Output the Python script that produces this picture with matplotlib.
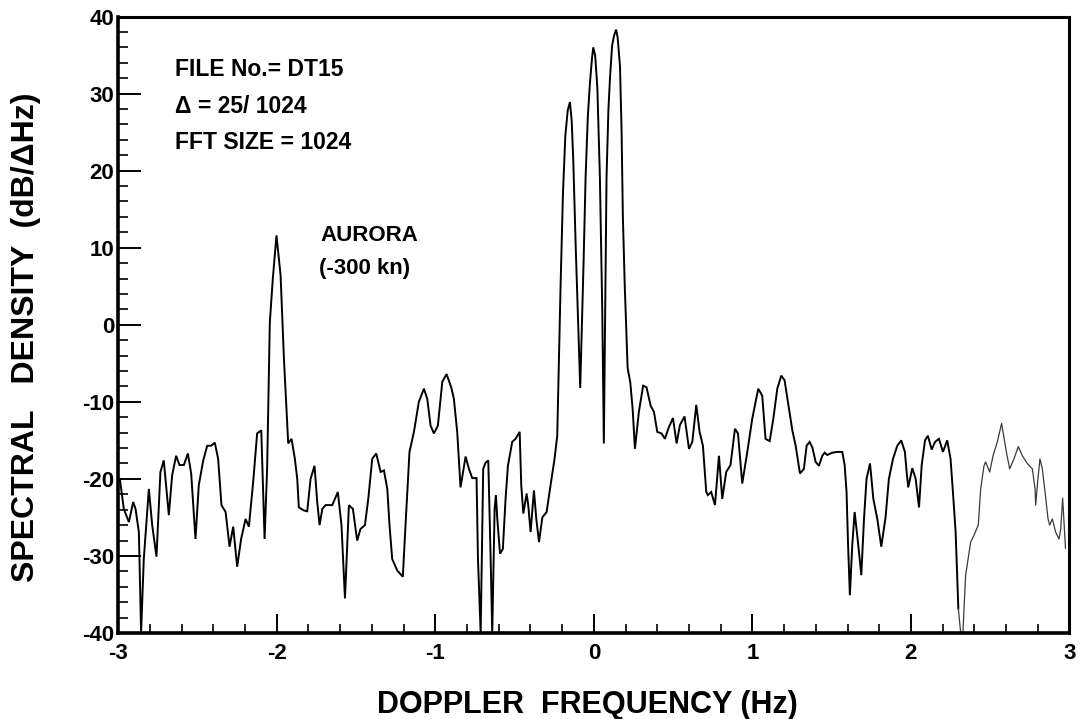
import matplotlib
matplotlib.use("Agg")
import matplotlib.pyplot as plt
from matplotlib.ticker import MultipleLocator, FormatStrFormatter

plt.rcParams["font.family"] = ["Liberation Sans", "DejaVu Sans"]
plt.rcParams["font.weight"] = "bold"
plt.rcParams["axes.unicode_minus"] = False

# Doppler spectrum (Hz, dB/ΔHz)
freq = [
    -2.990, -2.965, -2.933, -2.906, -2.891, -2.870, -2.856, -2.839, -2.807, -2.786,
    -2.759, -2.734, -2.713, -2.681, -2.660, -2.635, -2.614, -2.586, -2.561, -2.540,
    -2.513, -2.492, -2.464, -2.439, -2.414, -2.391, -2.370, -2.349, -2.323, -2.298,
    -2.275, -2.250, -2.225, -2.197, -2.176, -2.149, -2.124, -2.098, -2.077, -2.061,
    -2.044, -2.025, -2.002, -1.976, -1.955, -1.934, -1.928, -1.907, -1.886, -1.871,
    -1.861, -1.829, -1.808, -1.787, -1.762, -1.745, -1.730, -1.713, -1.692, -1.650,
    -1.629, -1.615, -1.592, -1.570, -1.545, -1.520, -1.493, -1.472, -1.444, -1.423,
    -1.398, -1.373, -1.345, -1.324, -1.303, -1.289, -1.272, -1.240, -1.205, -1.188,
    -1.163, -1.135, -1.104, -1.072, -1.051, -1.030, -1.009, -0.984, -0.956, -0.929,
    -0.900, -0.883, -0.862, -0.841, -0.809, -0.788, -0.767, -0.740, -0.731, -0.714,
    -0.698, -0.683, -0.666, -0.651, -0.641, -0.626, -0.618, -0.609, -0.592, -0.574,
    -0.557, -0.542, -0.515, -0.494, -0.468, -0.458, -0.445, -0.424, -0.414, -0.399,
    -0.378, -0.363, -0.346, -0.325, -0.298, -0.273, -0.248, -0.231, -0.222, -0.210,
    -0.195, -0.180, -0.165, -0.151, -0.140, -0.130, -0.115, -0.098, -0.086, -0.078,
    -0.065, -0.052, -0.038, -0.025, -0.012, -0.004, 0.008, 0.022, 0.038, 0.053,
    0.063, 0.072, 0.080, 0.092, 0.102, 0.115, 0.127, 0.140, 0.150, 0.165,
    0.175, 0.183, 0.195, 0.205, 0.213, 0.230, 0.245, 0.259, 0.284, 0.311,
    0.332, 0.358, 0.379, 0.400, 0.427, 0.448, 0.473, 0.499, 0.522, 0.543,
    0.572, 0.600, 0.621, 0.646, 0.667, 0.688, 0.709, 0.719, 0.740, 0.764,
    0.789, 0.810, 0.835, 0.862, 0.890, 0.909, 0.936, 0.968, 0.999, 1.037,
    1.062, 1.083, 1.109, 1.132, 1.157, 1.182, 1.203, 1.224, 1.252, 1.273,
    1.300, 1.325, 1.342, 1.361, 1.378, 1.399, 1.420, 1.441, 1.456, 1.472,
    1.504, 1.535, 1.567, 1.582, 1.594, 1.603, 1.615, 1.630, 1.645, 1.666,
    1.687, 1.704, 1.720, 1.742, 1.763, 1.788, 1.813, 1.840, 1.861, 1.887,
    1.914, 1.939, 1.962, 1.973, 1.983, 2.009, 2.030, 2.051, 2.068, 2.089,
    2.107, 2.131, 2.152, 2.177, 2.202, 2.229, 2.250, 2.265, 2.282, 2.299,
    2.314, 2.328, 2.345, 2.377, 2.398, 2.425, 2.440, 2.461, 2.471, 2.497,
    2.518, 2.545, 2.572, 2.602, 2.623, 2.650, 2.677, 2.703, 2.734, 2.766,
    2.783, 2.787, 2.801, 2.814, 2.829, 2.846, 2.865, 2.875, 2.892, 2.913,
    2.934, 2.945, 2.957, 2.975,
]
density = [
    -20.0, -23.9, -25.6, -23.0, -23.9, -26.9, -39.9, -30.4, -21.3, -26.0,
    -30.1, -19.1, -17.6, -24.7, -19.5, -17.0, -18.2, -18.2, -16.7, -19.3,
    -27.8, -20.8, -17.6, -15.7, -15.7, -15.3, -17.4, -23.4, -24.3, -28.8,
    -26.2, -31.4, -27.8, -25.2, -26.2, -20.4, -14.1, -13.7, -27.8, -18.7,
    0.3, 6.0, 11.6, 6.4, -4.4, -13.1, -15.4, -14.8, -17.4, -20.0,
    -23.7, -24.1, -24.2, -20.0, -18.3, -23.0, -26.0, -23.9, -23.4, -23.4,
    -22.4, -21.7, -26.0, -35.5, -23.4, -23.9, -28.0, -26.5, -26.0, -22.6,
    -17.4, -16.7, -19.1, -18.9, -21.3, -26.0, -30.4, -31.9, -32.7, -26.0,
    -16.5, -13.9, -10.0, -8.3, -9.6, -13.1, -14.1, -13.1, -7.4, -6.4,
    -8.1, -9.6, -13.9, -21.1, -17.1, -18.7, -19.9, -19.9, -30.4, -40.0,
    -18.7, -17.9, -17.6, -30.4, -40.0, -23.9, -22.1, -25.2, -29.7, -29.1,
    -22.6, -18.3, -15.2, -14.8, -13.9, -20.8, -24.5, -21.9, -23.4, -26.9,
    -21.5, -25.2, -28.2, -25.0, -24.3, -20.8, -17.4, -14.4, -6.0, 5.0,
    17.0, 24.5, 27.8, 28.9, 26.5, 21.5, 10.5, -0.3, -8.2, -2.0,
    8.0, 19.2, 27.0, 31.3, 34.5, 36.0, 35.0, 30.8, 19.2, 1.9,
    -15.4, 3.0, 19.2, 28.0, 32.1, 36.2, 37.5, 38.3, 37.3, 33.5,
    25.0, 14.0, 5.0, -1.0, -5.6, -7.5, -11.0, -16.1, -11.3, -7.9,
    -8.1, -10.5, -11.3, -13.9, -14.1, -14.8, -13.3, -12.1, -15.4, -13.0,
    -11.9, -16.1, -15.2, -10.4, -13.9, -15.7, -21.7, -22.1, -21.7, -23.4,
    -17.0, -22.6, -19.1, -18.2, -13.5, -14.1, -20.6, -16.5, -12.2, -8.3,
    -9.2, -14.8, -15.1, -12.2, -8.3, -6.6, -7.2, -10.0, -13.7, -15.7,
    -19.3, -18.7, -15.7, -15.2, -15.9, -17.8, -18.3, -17.0, -16.6, -16.9,
    -16.6, -16.5, -16.5, -18.2, -21.7, -28.2, -35.1, -28.6, -24.3, -28.2,
    -32.5, -25.2, -20.0, -18.0, -22.6, -25.2, -28.8, -25.0, -20.0, -17.4,
    -15.7, -15.0, -16.5, -19.1, -21.1, -18.6, -20.0, -23.7, -18.2, -15.0,
    -14.4, -16.2, -15.2, -14.8, -16.5, -15.0, -17.4, -21.7, -26.9, -36.8,
    -40.0, -40.0, -32.5, -28.2, -27.3, -26.0, -21.3, -18.3, -17.8, -19.1,
    -17.0, -15.2, -12.8, -16.5, -18.7, -17.4, -15.8, -17.0, -18.0, -18.7,
    -21.3, -23.4, -20.0, -17.4, -18.7, -21.7, -25.2, -26.0, -25.2, -26.9,
    -27.8, -26.5, -22.5, -29.0,
]

x_ticks = [-3, -2, -1, 0, 1, 2, 3]
y_ticks = [-40, -30, -20, -10, 0, 10, 20, 30, 40]

info_lines = ["FILE No.= DT15", "\u0394 = 25/ 1024", "FFT SIZE = 1024"]
info_y = [33.1, 28.3, 23.6]

fig = plt.figure(figsize=(10.82, 7.19), dpi=100)
ax = fig.add_axes([0.1093, 0.1196, 0.8791, 0.8574])

# solid trace, fading to a lighter pen stroke on the far right
split = next(i for i, f in enumerate(freq) if f >= 2.299)
ax.plot(freq[:split + 1], density[:split + 1], color="black", lw=1.4,
        solid_joinstyle="miter")
ax.plot(freq[split:], density[split:], color="#3a3a3a", lw=0.9)

ax.set_xlim(-3, 3)
ax.set_ylim(-40, 40)
ax.set_xticks(x_ticks)
ax.set_yticks(y_ticks)
ax.xaxis.set_minor_locator(MultipleLocator(0.2))
ax.yaxis.set_minor_locator(MultipleLocator(2))
ax.xaxis.set_major_formatter(FormatStrFormatter("%d"))
ax.yaxis.set_major_formatter(FormatStrFormatter("%d"))

ax.tick_params(axis="x", which="major", direction="in", length=14, width=1.4,
               pad=7, labelsize=16, top=False)
ax.tick_params(axis="x", which="minor", direction="in", length=6.5, width=1.2,
               top=False)
ax.tick_params(axis="y", which="major", direction="in", length=16.5, width=1.4,
               pad=3, labelsize=16, right=False)
ax.tick_params(axis="y", which="minor", direction="in", length=7, width=1.2,
               right=False)
for lab in ax.get_xticklabels() + ax.get_yticklabels():
    lab.set_fontweight("bold")

for side in ["left", "bottom"]:
    ax.spines[side].set_linewidth(2.6)
for side in ["top", "right"]:
    ax.spines[side].set_linewidth(2.2)

ax.set_xlabel("DOPPLER  FREQUENCY (Hz)", fontsize=22, fontweight="bold")
ax.set_ylabel("SPECTRAL   DENSITY  (dB/\u0394Hz)", fontsize=23, fontweight="bold")
ax.xaxis.label.set_va("center")
ax.yaxis.label.set_va("center")
ax.xaxis.set_label_coords(0.493, -0.117)
ax.yaxis.set_label_coords(-0.097, 0.48)

for txt, yv in zip(info_lines, info_y):
    ax.text(-2.64, yv, txt, fontsize=16.5, fontweight="bold", va="center", ha="left")

ax.text(-1.724, 11.6, "AURORA", fontsize=16, fontweight="bold", va="center", ha="left")
ax.text(-1.735, 7.3, "(-300 kn)", fontsize=16, fontweight="bold", va="center", ha="left")

fig.savefig("out.png", dpi=100)
